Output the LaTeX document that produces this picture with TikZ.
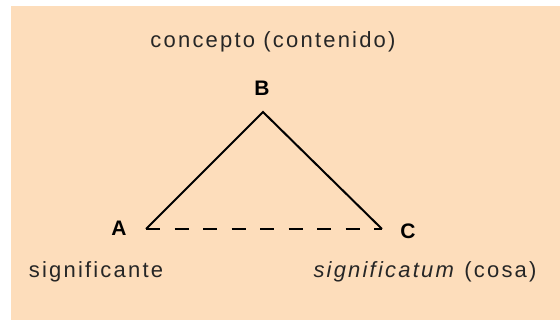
\documentclass[tikz,border=0pt]{standalone}
\usepackage{fontspec}
\setmainfont{Liberation Sans}
\newfontfamily\spacedfont[LetterSpace=10]{Liberation Sans}
\definecolor{peach}{RGB}{253,221,187}
\begin{document}
\begin{tikzpicture}[x=1pt,y=-1pt,
  lbl/.style={font=\spacedfont\fontsize{22}{26}\selectfont, text=black!85, inner sep=0pt},
  vert/.style={font=\bfseries\fontsize{21}{24}\selectfont, inner sep=0pt},
  edge/.style={line width=2pt, black}]
\useasboundingbox (0,0) rectangle (560,320);
\fill[white] (0,0) rectangle (560,320);
\fill[peach] (11,6) rectangle (560,320);
\coordinate (vB) at (263,112);
\coordinate (vA) at (146,229);
\coordinate (vC) at (382,229);
\draw[edge, line join=miter] (vA) -- (vB) -- (vC);
\draw[edge, line width=2.6pt, dash pattern=on 14pt off 14.5pt] (vA) -- (vC);
\node[vert] (B) at (262,88) {B};
\node[vert] (A) at (119,228) {A};
\node[vert] (C) at (408,231) {C};
\node[lbl] (concepto) at (273,42) {concepto (contenido)};
\node[lbl] (signif) at (96,272) {significante};
\node[lbl] (signum) at (425,272) {\textit{significatum} (cosa)};
\end{tikzpicture}
\end{document}
